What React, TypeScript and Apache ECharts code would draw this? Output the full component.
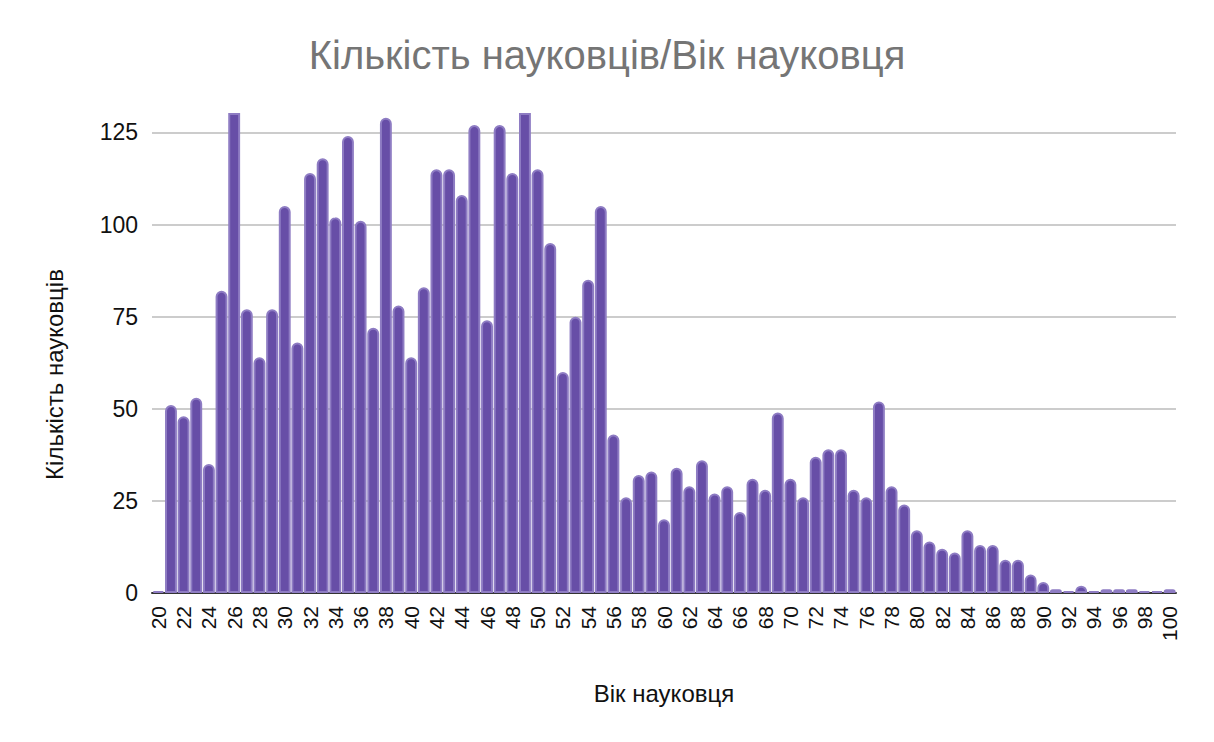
import React, { useEffect, useRef } from "react";
import * as echarts from "echarts";

const ages: string[] = [];
for (let a = 20; a <= 100; a++) ages.push(String(a));

// counts per age 20..100 (values above 130 are clipped by the axis in the reference)
const counts: number[] = [
  0.5, 51, 48, 53, 35, 82, 140, 77, 64, 77, // 20-29
  105, 68, 114, 118, 102, 124, 101, 72, 129, 78, // 30-39
  64, 83, 115, 115, 108, 127, 74, 127, 114, 137, // 40-49
  115, 95, 60, 75, 85, 105, 43, 26, 32, 33, // 50-59
  20, 34, 29, 36, 27, 29, 22, 31, 28, 49, // 60-69
  31, 26, 37, 39, 39, 28, 26, 52, 29, 24, // 70-79
  17, 14, 12, 11, 17, 13, 13, 9, 9, 5, // 80-89
  3, 1, 0.5, 2, 0.5, 1, 1, 1, 0.5, 0.5, // 90-99
  1, // 100
];

const Y_MAX = 130;
const yTicks = [0, 25, 50, 75, 100, 125];

const titleText = "Кількість науковців/Вік науковця";
const xName = "Вік науковця";
const yName = "Кількість науковців";

const FONT = "'Liberation Sans', Arial, sans-serif";

export default function App() {
  const ref = useRef<HTMLDivElement>(null);
  useEffect(() => {
    document.body.style.margin = "0";
    if (!ref.current) return;
    const chart = echarts.init(ref.current, undefined, { renderer: "svg" });
    const seriesData = counts.map((v) =>
      v > Y_MAX ? { value: v, itemStyle: { borderRadius: 0 } } : v
    );
    chart.setOption({
      animation: false,
      backgroundColor: "#ffffff",
      textStyle: { fontFamily: FONT },
      title: {
        text: titleText,
        left: "center",
        top: 30,
        textStyle: {
          color: "#757575",
          fontSize: 40,
          fontWeight: "normal",
          fontFamily: FONT,
        },
      },
      grid: { left: 152, right: 38, top: 114, bottom: 149, containLabel: false },
      xAxis: {
        type: "category",
        data: ages,
        name: xName,
        nameLocation: "middle",
        nameGap: 88,
        nameTextStyle: { color: "#111", fontSize: 24, fontFamily: FONT },
        axisLine: { show: true, lineStyle: { color: "#333", width: 2 } },
        axisTick: { show: false },
        axisLabel: {
          interval: 1,
          rotate: 90,
          color: "#111",
          fontSize: 21,
          margin: 13,
          fontFamily: FONT,
        },
        splitLine: { show: false },
      },
      yAxis: {
        type: "value",
        min: 0,
        max: Y_MAX,
        interval: 25,
        name: yName,
        nameLocation: "middle",
        nameGap: 86,
        nameTextStyle: {
          color: "#111",
          fontSize: 24,
          fontFamily: FONT,
          padding: [0, 42, 0, 0],
        },
        axisLine: { show: false },
        axisTick: { show: false },
        axisLabel: {
          color: "#111",
          fontSize: 23,
          margin: 14,
          showMaxLabel: false,
          fontFamily: FONT,
          formatter: (v: number) => (yTicks.indexOf(v) >= 0 ? String(v) : ""),
        },
        splitLine: {
          show: true,
          showMaxLine: false,
          lineStyle: { color: "#cccccc", width: 2 },
        },
      },
      series: [
        {
          type: "bar",
          data: seriesData,
          barCategoryGap: "6%",
          clip: true,
          itemStyle: {
            color: "#674ea7",
            borderColor: "#8e7cc3",
            borderWidth: 2,
            borderRadius: [6, 6, 0, 0],
          },
        },
      ],
    });
    return () => chart.dispose();
  }, []);
  return <div ref={ref} style={{ width: 1214, height: 742 }} />;
}
